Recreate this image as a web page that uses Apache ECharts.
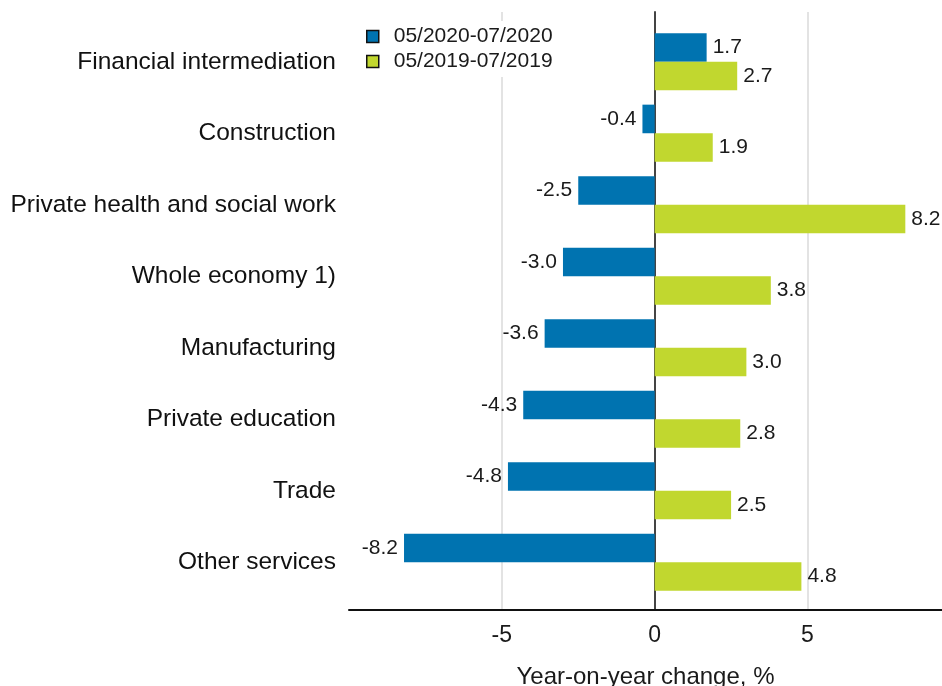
<!DOCTYPE html>
<html><head><meta charset="utf-8">
<script src="https://cdn.jsdelivr.net/npm/echarts@6/dist/echarts.min.js"></script>
<style>html,body{margin:0;padding:0;background:#fff}#c{width:942px;height:686px}</style>
</head><body><div id="c"></div>
<script>
var categories = ['Financial intermediation','Construction','Private health and social work','Whole economy 1)','Manufacturing','Private education','Trade','Other services'];
var series2020 = [1.7, -0.4, -2.5, -3.0, -3.6, -4.3, -4.8, -8.2];
var series2019 = [2.7, 1.9, 8.2, 3.8, 3.0, 2.8, 2.5, 4.8];
var seriesNames = ['05/2020-07/2020','05/2019-07/2019'];
var colors = ['#0073b0','#c1d72f'];

function items(arr){
  return arr.map(function(v){return {value:v,label:{position: v<0?'left':'right'}};});
}
var font = 'Liberation Sans, Arial, sans-serif';
var chart = echarts.init(document.getElementById('c'));
chart.setOption({
  animation:false,
  textStyle:{fontFamily:font},
  legend:{
    orient:'vertical', left:361, top:21, backgroundColor:'#fff', padding:5,
    itemWidth:12, itemHeight:12, itemGap:4, icon:'rect',
    textStyle:{fontSize:21, color:'#1a1a1a', fontFamily:font, padding:[0,0,0,10]},
    data:[
      {name:seriesNames[0], itemStyle:{color:colors[0], borderColor:'#111', borderWidth:1.5}},
      {name:seriesNames[1], itemStyle:{color:colors[1], borderColor:'#111', borderWidth:1.5}}
    ]
  },
  grid:[
    {left:349, right:0, top:12, bottom:76, outerBoundsMode:'none', containLabel:false},
    {left:349, right:0, top:26, bottom:88, outerBoundsMode:'none', containLabel:false}
  ],
  xAxis:[
    {type:'value', gridIndex:0, min:-10, max:9.4, interval:5,
     axisLine:{show:true, onZero:false, lineStyle:{color:'#111', width:2}},
     axisTick:{show:false},
     axisLabel:{fontSize:23, color:'#1a1a1a', margin:14, showMinLabel:false, showMaxLabel:false, fontFamily:font},
     splitLine:{show:true, showMinLine:false, showMaxLine:false, lineStyle:{color:'#e3e3e3', width:2}},
     name:'Year-on-year change, %', nameLocation:'middle', nameGap:55,
     nameTextStyle:{fontSize:24, color:'#1a1a1a', fontFamily:font}
    },
    {type:'value', gridIndex:1, min:-10, max:9.4, show:false}
  ],
  yAxis:[
    {type:'value', gridIndex:0, min:0, max:1,
     axisLine:{show:true, onZero:true, lineStyle:{color:'#444', width:2}},
     axisTick:{show:false}, axisLabel:{show:false}, splitLine:{show:false}
    },
    {type:'category', gridIndex:1, data:categories, inverse:true,
     axisLine:{show:false}, axisTick:{show:false},
     axisLabel:{fontSize:24.5, color:'#111', margin:13, fontFamily:font},
     splitLine:{show:false}
    }
  ],
  series:[
    {name:seriesNames[0], type:'bar', xAxisIndex:1, yAxisIndex:1, data:items(series2020),
     itemStyle:{color:colors[0]}, barGap:'0%', barCategoryGap:'20%', z:3,
     label:{show:true, distance:6, fontSize:21, color:'#1a1a1a', fontFamily:font,
       formatter:function(p){return p.value.toFixed(1);}}},
    {name:seriesNames[1], type:'bar', xAxisIndex:1, yAxisIndex:1, data:items(series2019),
     itemStyle:{color:colors[1]}, barGap:'0%', barCategoryGap:'20%', z:3,
     label:{show:true, distance:6, fontSize:21, color:'#1a1a1a', fontFamily:font,
       formatter:function(p){return p.value.toFixed(1);}}}
  ]
});
</script></body></html>
